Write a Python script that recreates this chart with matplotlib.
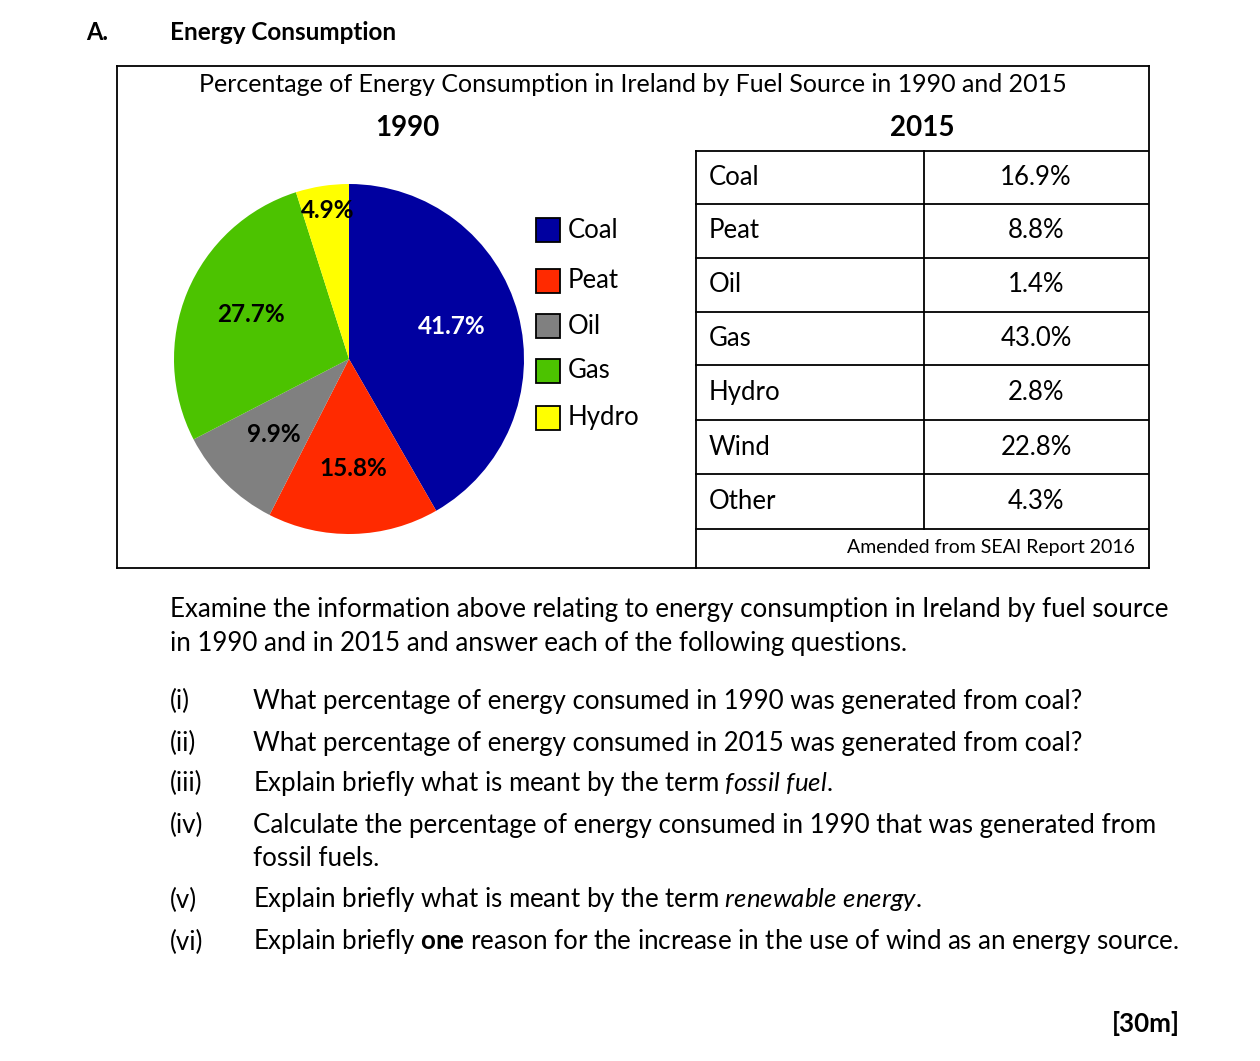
import matplotlib
matplotlib.use("Agg")
import matplotlib.pyplot as plt
from matplotlib.lines import Line2D
from matplotlib.patches import Rectangle

plt.rcParams["font.family"] = "Lato"
plt.rcParams["mathtext.fontset"] = "custom"
plt.rcParams["mathtext.rm"] = "Lato"
plt.rcParams["mathtext.it"] = "Lato:italic"
plt.rcParams["mathtext.bf"] = "Lato:bold"

pie_labels = ["Coal", "Peat", "Oil", "Gas", "Hydro"]
pie_values = [41.7, 15.8, 9.9, 27.7, 4.9]
pie_colors = ["#0000a0", "#ff2a00", "#808080", "#4cc300", "#ffff00"]
table_sources = ["Coal", "Peat", "Oil", "Gas", "Hydro", "Wind", "Other"]
table_values = ["16.9%", "8.8%", "1.4%", "43.0%", "2.8%", "22.8%", "4.3%"]

W, H = 1260, 1061
fig = plt.figure(figsize=(W/100, H/100), dpi=100)

def fx(x): return x / W
def fy(y): return 1 - y / H
def text(x, y, s, **kw):
    kw.setdefault("fontsize", 14)
    kw.setdefault("va", "center")
    fig.text(fx(x), fy(y), s, **kw)
def line(x0, y0, x1, y1, lw=1.3):
    fig.add_artist(Line2D([fx(x0), fx(x1)], [fy(y0), fy(y1)], color="black", lw=lw))

text(86, 32, "A.", fontsize=17, weight="bold")
text(170, 32, "Energy Consumption", fontsize=17.5, weight="bold")

for (a, b, c, d) in [(117, 66, 1149, 66), (117, 568, 1149, 568), (117, 66, 117, 568), (1149, 66, 1149, 568)]:
    line(a, b, c, d)
text(633, 85, "Percentage of Energy Consumption in Ireland by Fuel Source in 1990 and 2015", fontsize=18, ha="center")
text(407, 128, "1990", fontsize=20, weight="bold", ha="center")
text(922, 128, "2015", fontsize=20, weight="bold", ha="center")

ax = fig.add_axes([fx(174), fy(534), 350/W, 350/H])
ax.pie(pie_values, colors=pie_colors, startangle=90, counterclock=False,
       wedgeprops=dict(edgecolor="none"))
ax.set_xlim(-1, 1)
ax.set_ylim(-1, 1)
ax.set_aspect("equal")
lab_pos = [(452, 326, "white"), (353, 468, "black"), (274, 435, "black"), (251, 314, "black"), (328, 211, "black")]
for v, (x, y, c) in zip(pie_values, lab_pos):
    text(x, y, f"{v}%", fontsize=17.5, weight="bold", color=c, ha="center")

leg_y = [230, 281, 326, 371, 418]
for lab, col, y in zip(pie_labels, pie_colors, leg_y):
    fig.add_artist(Rectangle((fx(536), fy(y + 12)), 24/W, 24/H, facecolor=col, edgecolor="black", lw=1.3))
    text(568, y, lab, fontsize=18.5)

rows = [151, 204, 258, 312, 365, 420, 474, 529]
for y in rows:
    line(696, y, 1148, y)
line(696, 151, 696, 568)
line(924, 151, 924, 529)
for i, (s, v) in enumerate(zip(table_sources, table_values)):
    yc = (rows[i] + rows[i+1]) / 2
    text(709, yc, s, fontsize=18.5)
    text(1036, yc, v, fontsize=18.5, ha="center")
text(1135, 548, "Amended from SEAI Report 2016", fontsize=14, ha="right")

fs = 18.6
text(170, 610, "Examine the information above relating to energy consumption in Ireland by fuel source", fontsize=fs)
text(170, 644, "in 1990 and in 2015 and answer each of the following questions.", fontsize=fs)
qs = [
    (701, "(i)", "What percentage of energy consumed in 1990 was generated from coal?"),
    (743, "(ii)", "What percentage of energy consumed in 2015 was generated from coal?"),
    (783, "(iii)", "Explain briefly what is meant by the term $\\mathit{fossil\\ fuel}$."),
    (825, "(iv)", "Calculate the percentage of energy consumed in 1990 that was generated from"),
    (859, "", "fossil fuels."),
    (900, "(v)", "Explain briefly what is meant by the term $\\mathit{renewable\\ energy}$."),
    (942, "(vi)", "Explain briefly $\\mathbf{one}$ reason for the increase in the use of wind as an energy source."),
]
for y, n, s in qs:
    text(170, y, n, fontsize=fs)
    text(253, y, s, fontsize=fs)
text(1180, 1024, "[30m]", fontsize=fs, weight="bold", ha="right")

fig.savefig("out.png", dpi=100)
